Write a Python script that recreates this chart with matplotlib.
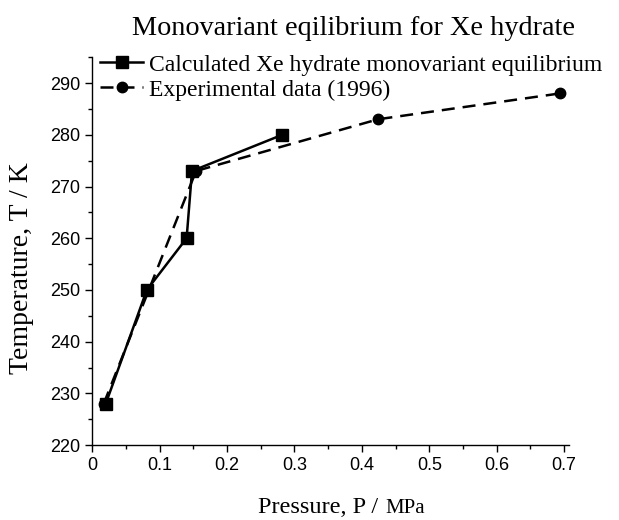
import matplotlib
matplotlib.use('Agg')
import matplotlib.pyplot as plt
from matplotlib.ticker import MultipleLocator

# calculated monovariant equilibrium
calc_p = [0.020, 0.081, 0.140, 0.148, 0.282]
calc_t = [228, 250, 260, 273, 280]

# experimental data (1996)
exp_p = [0.017, 0.154, 0.424, 0.694]
exp_t = [228, 273, 283, 288]

xticks = [0, 0.1, 0.2, 0.3, 0.4, 0.5, 0.6, 0.7]
xtick_labels = ['0', '0.1', '0.2', '0.3', '0.4', '0.5', '0.6', '0.7']

fig = plt.figure(figsize=(6.19, 5.2), dpi=100)
ax = fig.add_axes([0.149, 0.144, 0.770, 0.746])

ax.plot(calc_p, calc_t, '-s', color='black', lw=1.8, ms=8,
        label='Calculated Xe hydrate monovariant equilibrium')
ax.plot(exp_p, exp_t, '--o', color='black', lw=1.8, ms=7.5, dashes=(5.2, 3.2),
        label='Experimental data (1996)')

ax.set_xlim(0, 0.707)
ax.set_ylim(220, 295)
ax.set_xticks(xticks)
ax.set_xticklabels(xtick_labels)
ax.xaxis.set_minor_locator(MultipleLocator(0.05))
ax.yaxis.set_major_locator(MultipleLocator(10))
ax.yaxis.set_minor_locator(MultipleLocator(5))

for s in ['top', 'right']:
    ax.spines[s].set_visible(False)
for s in ['left', 'bottom']:
    ax.spines[s].set_linewidth(1.0)
ax.tick_params(which='both', direction='out', width=1.0)
ax.tick_params(which='major', length=5, labelsize=13, pad=3.5)
ax.tick_params(which='minor', length=2.7)
for lab in ax.get_xticklabels() + ax.get_yticklabels():
    lab.set_family('Liberation Sans')

serif = 'Liberation Serif'
# x label: "MPa" is set a bit smaller than the rest
ax.text(0.600, -0.175, 'Pressure, P /', transform=ax.transAxes, ha='right',
        va='baseline', fontsize=17.5, family=serif)
ax.text(0.614, -0.175, 'MPa', transform=ax.transAxes, ha='left',
        va='baseline', fontsize=15, family=serif)
ax.set_ylabel('Temperature, T / K', fontsize=20, family=serif)
ax.yaxis.set_label_coords(-0.122, 0.456)
fig.text(0.571, 0.933, 'Monovariant eqilibrium for Xe hydrate', ha='center',
         va='baseline', fontsize=20.3, family=serif)

ax.legend(loc='upper left', bbox_to_anchor=(0.017, 1.008), frameon=False,
          prop={'family': serif, 'size': 17}, handlelength=1.8,
          handletextpad=0.26, labelspacing=0.15, borderaxespad=0,
          borderpad=0)

fig.savefig('out.png', dpi=100)
